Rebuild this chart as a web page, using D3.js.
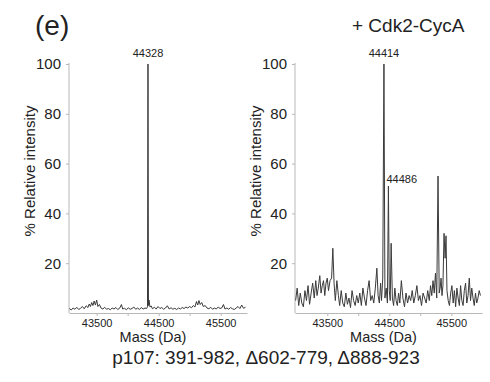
<!DOCTYPE html>
<html>
<head>
<meta charset="utf-8">
<script src="https://cdn.jsdelivr.net/npm/d3@7"></script>
<style>
  body { margin: 0; background: #fff; }
  svg { font-family: Arial, "Liberation Sans", sans-serif; }
</style>
</head>
<body>
<script>
// left spectrum: [mass (Da), % relative intensity]
const leftSpectrum = [
  [43060, 1.8], [43090, 1.2], [43120, 2.0], [43150, 1.5], [43180, 2.3], [43210, 1.4],
  [43240, 1.9], [43270, 2.6], [43300, 1.7], [43330, 2.9], [43360, 2.2], [43380, 3.6],
  [43400, 2.6], [43420, 4.2], [43440, 3.0], [43460, 4.8], [43480, 3.2], [43500, 5.2],
  [43520, 2.6], [43545, 3.4], [43570, 2.0], [43600, 1.6], [43630, 2.3], [43660, 1.5],
  [43690, 1.8], [43720, 1.3], [43750, 2.0], [43780, 1.6], [43810, 2.2], [43840, 1.4],
  [43870, 1.9], [43900, 3.4], [43920, 1.6], [43950, 1.9], [43980, 1.3], [44010, 2.1],
  [44040, 1.5], [44070, 1.8], [44100, 2.4], [44130, 1.5], [44160, 2.0], [44190, 1.4],
  [44220, 2.2], [44250, 1.6], [44280, 2.0], [44305, 1.8], [44320, 2.5], [44328, 100],
  [44336, 3.0], [44345, 5.2], [44360, 2.4], [44380, 2.8], [44400, 1.7], [44430, 2.3],
  [44460, 1.6], [44490, 2.6], [44520, 1.8], [44550, 2.2], [44580, 1.5], [44610, 2.0],
  [44640, 2.9], [44670, 1.6], [44700, 2.1], [44730, 1.5], [44760, 1.9], [44790, 1.4],
  [44820, 2.0], [44850, 1.6], [44880, 2.2], [44910, 1.8], [44940, 2.4], [44970, 2.0],
  [45000, 2.6], [45030, 2.1], [45060, 3.0], [45085, 2.4], [45110, 4.6], [45130, 3.2],
  [45150, 5.0], [45170, 3.4], [45195, 4.2], [45220, 2.6], [45250, 3.0], [45280, 2.0],
  [45310, 1.7], [45340, 2.3], [45370, 1.5], [45400, 2.0], [45430, 1.6], [45460, 2.4],
  [45490, 1.8], [45520, 2.1], [45545, 3.4], [45570, 1.6], [45600, 2.0], [45630, 1.5],
  [45660, 2.2], [45690, 1.7], [45720, 1.4], [45750, 2.0], [45780, 2.6], [45810, 1.8],
  [45840, 3.2], [45870, 1.9], [45900, 2.3]
];

// right spectrum (+ Cdk2-CycA)
const rightSpectrum = [
  [42990, 5], [43015, 10], [43040, 3], [43065, 8], [43090, 4], [43115, 2.5], [43140, 9],
  [43165, 5], [43190, 11], [43215, 3.5], [43240, 8], [43265, 12], [43290, 6], [43315, 13],
  [43335, 7], [43355, 10], [43380, 15], [43400, 8], [43420, 11], [43440, 13], [43460, 7],
  [43480, 12], [43500, 14], [43520, 9], [43545, 13], [43570, 14], [43590, 26], [43610, 12],
  [43630, 5], [43655, 13], [43680, 7], [43700, 3], [43725, 9], [43750, 4], [43775, 2.5],
  [43800, 8], [43825, 3.5], [43850, 6], [43875, 2.2], [43900, 9], [43925, 5], [43950, 3],
  [43975, 7], [44000, 4], [44025, 8], [44050, 3], [44075, 10], [44100, 6], [44125, 3],
  [44150, 9], [44175, 13], [44200, 5], [44225, 7], [44250, 4], [44275, 10], [44300, 18],
  [44320, 7], [44340, 4], [44360, 12], [44375, 5], [44395, 14], [44414, 100], [44430, 6],
  [44450, 10], [44470, 4], [44486, 51], [44500, 9], [44515, 5], [44530, 28], [44550, 6],
  [44570, 3], [44590, 10], [44610, 5], [44630, 3], [44650, 8], [44670, 4], [44695, 13],
  [44720, 6], [44745, 2.5], [44770, 8], [44795, 4], [44820, 7], [44845, 5], [44870, 9],
  [44895, 4], [44920, 7], [44945, 11], [44970, 5], [44995, 7], [45020, 3], [45045, 8],
  [45070, 6], [45095, 4], [45120, 9], [45145, 5], [45165, 11], [45185, 7], [45205, 13],
  [45225, 8], [45245, 16], [45265, 6], [45286, 55], [45305, 8], [45320, 10], [45335, 14],
  [45350, 7], [45365, 11], [45383, 32], [45400, 22], [45415, 31], [45430, 9], [45450, 5],
  [45470, 3], [45490, 8], [45510, 11], [45530, 4], [45550, 9], [45570, 2.5], [45590, 10],
  [45610, 6], [45630, 3], [45650, 11], [45670, 5], [45690, 3], [45710, 9], [45730, 12],
  [45750, 4], [45770, 7], [45790, 14], [45810, 5], [45830, 10], [45850, 6], [45870, 3],
  [45890, 8], [45910, 4], [45930, 6], [45950, 9], [45970, 7]
];

const leftPeakLabels = [[44328, 100]];
const rightPeakLabels = [[44414, 100], [44486, 51]];

const yTicks = [20, 40, 60, 80, 100];
const xTicks = [43500, 44000, 44500, 45000, 45500];

const W = 490, H = 382;
const svg = d3.select("body").append("svg").attr("width", W).attr("height", H);

function drawPanel(opts) {
  const x = d3.scaleLinear().domain(opts.domain).range([opts.x0, opts.x1]);
  const y = d3.scaleLinear().domain([0, 100]).range([313, 64]);
  const g = svg.append("g");

  // y axis
  const ya = g.append("g")
      .attr("transform", `translate(${opts.x0},0)`)
      .call(d3.axisLeft(y).tickValues(yTicks).tickSize(3).tickPadding(5).tickSizeOuter(0));
  ya.select(".domain").attr("stroke", "#b8b8b8").attr("d", `M0,313V63`);
  ya.selectAll(".tick line").attr("stroke", "#b8b8b8");
  ya.selectAll(".tick text").attr("font-size", 15).attr("fill", "#222")
      .attr("font-family", "Arial, 'Liberation Sans', sans-serif");

  // x axis
  const xa = g.append("g")
      .attr("transform", `translate(0,313)`)
      .call(d3.axisBottom(x).tickValues(xTicks).tickSize(3).tickPadding(3).tickSizeOuter(0)
        .tickFormat(d => d % 1000 === 500 ? d : ""));
  xa.select(".domain").attr("stroke", "#b8b8b8");
  xa.selectAll(".tick line").attr("stroke", "#b8b8b8");
  xa.selectAll(".tick text").attr("font-size", 11).attr("fill", "#222")
      .attr("font-family", "Arial, 'Liberation Sans', sans-serif");

  // spectrum line
  const line = d3.line().x(d => x(d[0])).y(d => y(d[1]));
  g.append("path")
      .datum(opts.data)
      .attr("fill", "none")
      .attr("stroke", "#3a3a3a")
      .attr("stroke-width", 1)
      .attr("stroke-linejoin", "round")
      .attr("d", line);

  // peak mass labels
  g.selectAll(".peak")
    .data(opts.peaks)
    .enter().append("text")
      .attr("x", (d, i) => i === 0 ? x(d[0]) : x(d[0]) - 2)
      .attr("y", (d, i) => i === 0 ? y(d[1]) - 7 : y(d[1]) - 3)
      .attr("text-anchor", (d, i) => i === 0 ? "middle" : "start")
      .attr("font-size", 11)
      .attr("fill", "#222")
      .text(d => d[0]);

  // axis titles
  g.append("text")
      .attr("transform", `translate(${opts.yTitleX},171) rotate(-90)`)
      .attr("text-anchor", "middle")
      .attr("font-size", 15)
      .attr("fill", "#222")
      .text("% Relative intensity");
  g.append("text")
      .attr("x", (opts.x0 + opts.x1) / 2 - 5)
      .attr("y", 342)
      .attr("text-anchor", "middle")
      .attr("font-size", 14.5)
      .attr("fill", "#222")
      .text("Mass (Da)");
}

drawPanel({ data: leftSpectrum, peaks: leftPeakLabels, domain: [43054, 45925],
            x0: 69, x1: 247, yTitleX: 35 });
drawPanel({ data: rightSpectrum, peaks: rightPeakLabels, domain: [42980, 45995],
            x0: 295, x1: 482, yTitleX: 261 });

svg.append("text").attr("x", 35).attr("y", 35)
   .attr("font-size", 28).attr("fill", "#222").text("(e)");
svg.append("text").attr("x", 352).attr("y", 32)
   .attr("font-size", 19).attr("fill", "#222").text("+ Cdk2-CycA");
svg.append("text").attr("x", 266).attr("y", 364)
   .attr("text-anchor", "middle")
   .attr("font-size", 19).attr("fill", "#222")
   .text("p107: 391-982, \u0394602-779, \u0394888-923");
</script>
</body>
</html>
